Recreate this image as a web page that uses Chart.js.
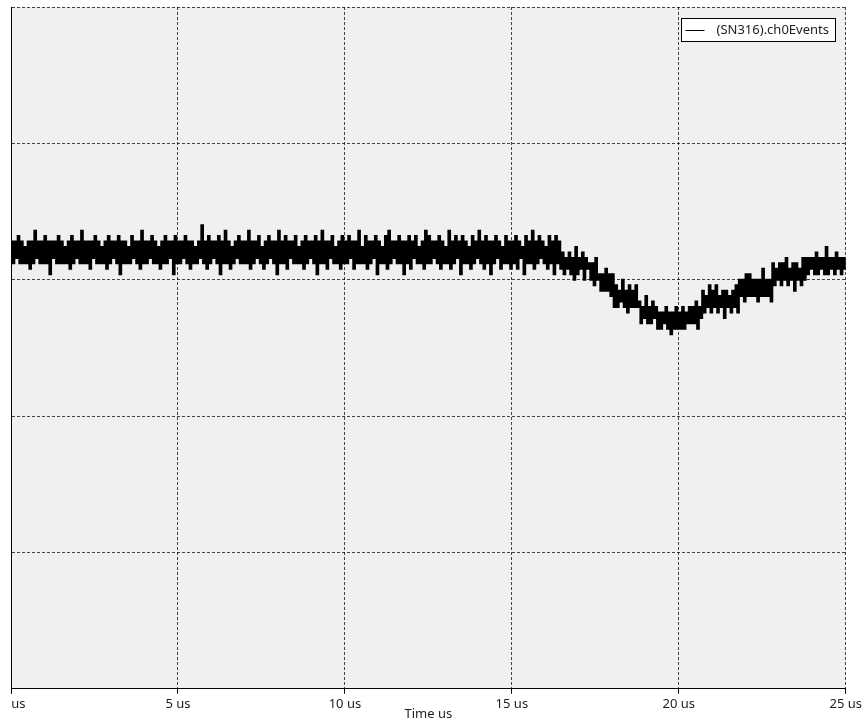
<!DOCTYPE html>
<html>
<head>
<meta charset="utf-8">
<script src="https://cdn.jsdelivr.net/npm/chart.js@4/dist/chart.umd.min.js"></script>
<style>
  html, body { margin: 0; padding: 0; background: #ffffff; }
  #frame { position: relative; width: 865px; height: 724px; overflow: hidden; background: #ffffff; }
  #scope { position: absolute; left: -20px; top: 0; }
</style>
</head>
<body>
<div id="frame"><canvas id="scope" width="885" height="724"></canvas></div>
<script>
// Channel 0 event trace, one sample every 50 ns, raw level counts
const seriesLabel = '(SN316).ch0Events';
const axisTitle = 'Time us';
const sampleIntervalUs = 0.05;
const tickValuesUs = [0, 5, 10, 15, 20, 25];
const tickSuffix = ' us';
const levelRange = [0, 250];
const levelGridStep = 50;

// 0 – 5 us
const samples0to5 = [
  164,156,164,158,166,156,164,156,162,156,
  164,154,164,156,168,158,164,156,164,156,
  166,156,164,152,164,158,164,156,166,156,
  164,156,162,156,164,154,166,156,164,158,
  164,156,168,156,164,156,164,154,164,158,
  166,156,164,156,162,156,164,154,166,156,
  164,158,164,156,166,152,164,156,164,156,
  162,156,166,158,164,156,164,154,168,156,
  164,156,164,158,166,156,164,156,162,154,
  164,156,166,156,164,158,164,152,166,156
];
// 5 – 10 us
const samples5to10 = [
  164,156,164,158,166,156,164,154,164,156,
  162,156,164,158,170,156,164,154,166,156,
  164,158,164,156,166,152,164,156,168,156,
  164,154,162,156,164,158,166,156,164,156,
  164,156,168,154,164,156,164,158,166,156,
  162,154,164,156,166,158,164,156,164,152,
  168,156,164,156,166,154,164,158,164,156,
  166,156,162,156,164,154,166,156,164,158,
  164,156,166,152,164,156,168,156,164,154,
  164,158,166,156,162,156,164,154,166,156
];
// 10 – 15 us
const samples10to15 = [
  164,156,166,158,164,154,164,156,168,156,
  162,156,166,154,164,156,164,158,166,152,
  164,156,162,156,166,154,168,156,164,158,
  164,156,166,156,164,152,164,156,166,154,
  164,158,166,156,162,156,164,154,168,156,
  166,156,164,158,164,156,166,154,164,156,
  162,156,168,154,164,156,166,158,164,152,
  166,156,164,156,162,154,166,156,164,158,
  168,156,164,154,166,156,164,152,164,156,
  166,158,164,154,162,156,166,156,164,154
];
// 15 – 20 us (level starts to drop near 16.5 us)
const samples15to20 = [
  164,156,166,154,164,158,162,152,166,156,
  164,156,168,154,164,156,166,158,164,156,
  162,154,166,156,164,152,166,156,164,154,
  160,152,158,154,160,152,158,150,162,152,158,154,160,150,158,154,
  156,150,156,148,158,150,
  152,146,152,146,154,146,152,144,152,
  140,148,140,146,142,150,140,146,138,148,140,146,140,148,140,
  142,134,140,136,144,134,140,134,142,136,140,132,
  138,132,138,134,140,132,138,130,138,132,140,132
];
// 20 – 25 us (recovery)
const samples20to25 = [
  138,132,140,132,138,134,
  140,134,140,134,142,132,140,136,
  146,138,144,140,148,138,146,140,148,138,144,140,146,136,146,140,144,138,146,140,148,138,
  150,144,150,142,152,144,152,144,150,144,150,142,150,144,154,144,150,144,150,142,
  156,148,154,150,156,148,156,150,158,148,154,150,156,146,156,150,154,148,158,150,
  158,152,158,154,158,152,160,152,158,154,158,152,162,152,158,154,158,152,160,154,158,152,158,154,158
];

const levels = [].concat(samples0to5, samples5to10, samples10to15, samples15to20, samples20to25);
const points = levels.map((v, i) => ({ x: i * sampleIntervalUs, y: v }));

const FONT = "'Noto Sans', 'DejaVu Sans', sans-serif";
const TEXT = '#1e1e1e';
const GRID = 'rgba(0,0,0,0.72)';
const DASH = [3, 2];

// Grey plotting field behind the trace
const plotField = {
  id: 'plotField',
  beforeDraw(chart) {
    const { ctx, chartArea: a } = chart;
    ctx.save();
    ctx.fillStyle = '#f0f0f0';
    ctx.fillRect(a.left, a.top, a.right - a.left, a.bottom - a.top);
    ctx.restore();
  }
};

// Boxed legend in the upper right corner of the plot
const boxedLegend = {
  id: 'boxedLegend',
  afterDraw(chart) {
    const { ctx, chartArea: a } = chart;
    const ds = chart.data.datasets[0];
    const w = 154, h = 23;
    const x = Math.round(a.right - 11 - w) + 0.5;
    const y = Math.round(a.top + 11) + 0.5;
    ctx.save();
    ctx.fillStyle = '#ffffff';
    ctx.fillRect(x, y, w, h);
    ctx.strokeStyle = '#000000';
    ctx.lineWidth = 1;
    ctx.strokeRect(x, y, w, h);
    const my = Math.round(y + h / 2) + 0.5;
    ctx.beginPath();
    ctx.moveTo(x + 4, my);
    ctx.lineTo(x + 23, my);
    ctx.strokeStyle = ds.borderColor;
    ctx.lineWidth = 1;
    ctx.stroke();
    ctx.fillStyle = TEXT;
    ctx.font = '13px ' + FONT;
    ctx.textBaseline = 'middle';
    ctx.textAlign = 'left';
    ctx.fillText(ds.label, x + 35, my);
    ctx.restore();
  }
};

new Chart(document.getElementById('scope'), {
  type: 'line',
  data: {
    datasets: [{
      label: seriesLabel,
      data: points,
      borderColor: '#000000',
      borderWidth: 2,
      pointRadius: 0,
      stepped: true,
      fill: false
    }]
  },
  options: {
    responsive: false,
    animation: false,
    events: [],
    layout: { padding: { left: 31, right: 17, top: 7, bottom: 0 } },
    plugins: { legend: { display: false }, tooltip: { enabled: false } },
    scales: {
      x: {
        type: 'linear',
        min: tickValuesUs[0],
        max: tickValuesUs[tickValuesUs.length - 1],
        afterBuildTicks(scale) { scale.ticks = tickValuesUs.map(v => ({ value: v })); },
        ticks: {
          color: TEXT,
          font: { family: FONT, size: 13 },
          padding: 3,
          maxRotation: 0,
          autoSkip: false,
          // the zero label sits against the frame edge; only its unit shows
          callback: v => (v === 0 ? '\u2007\u2007us' : v + tickSuffix)
        },
        grid: {
          color: GRID,
          lineWidth: 1,
          drawTicks: true,
          tickLength: 5,
          tickColor: '#000000',
          tickBorderDash: []
        },
        border: { display: true, color: '#000000', width: 1, dash: DASH },
        title: {
          display: true,
          text: axisTitle,
          color: TEXT,
          font: { family: FONT, size: 13 },
          padding: { top: -9, bottom: 2 }
        }
      },
      y: {
        min: levelRange[0],
        max: levelRange[1],
        ticks: { display: false, stepSize: levelGridStep },
        grid: { color: GRID, lineWidth: 1, drawTicks: false },
        border: { display: true, color: '#000000', width: 1, dash: DASH }
      }
    }
  },
  plugins: [plotField, boxedLegend]
});
</script>
</body>
</html>
